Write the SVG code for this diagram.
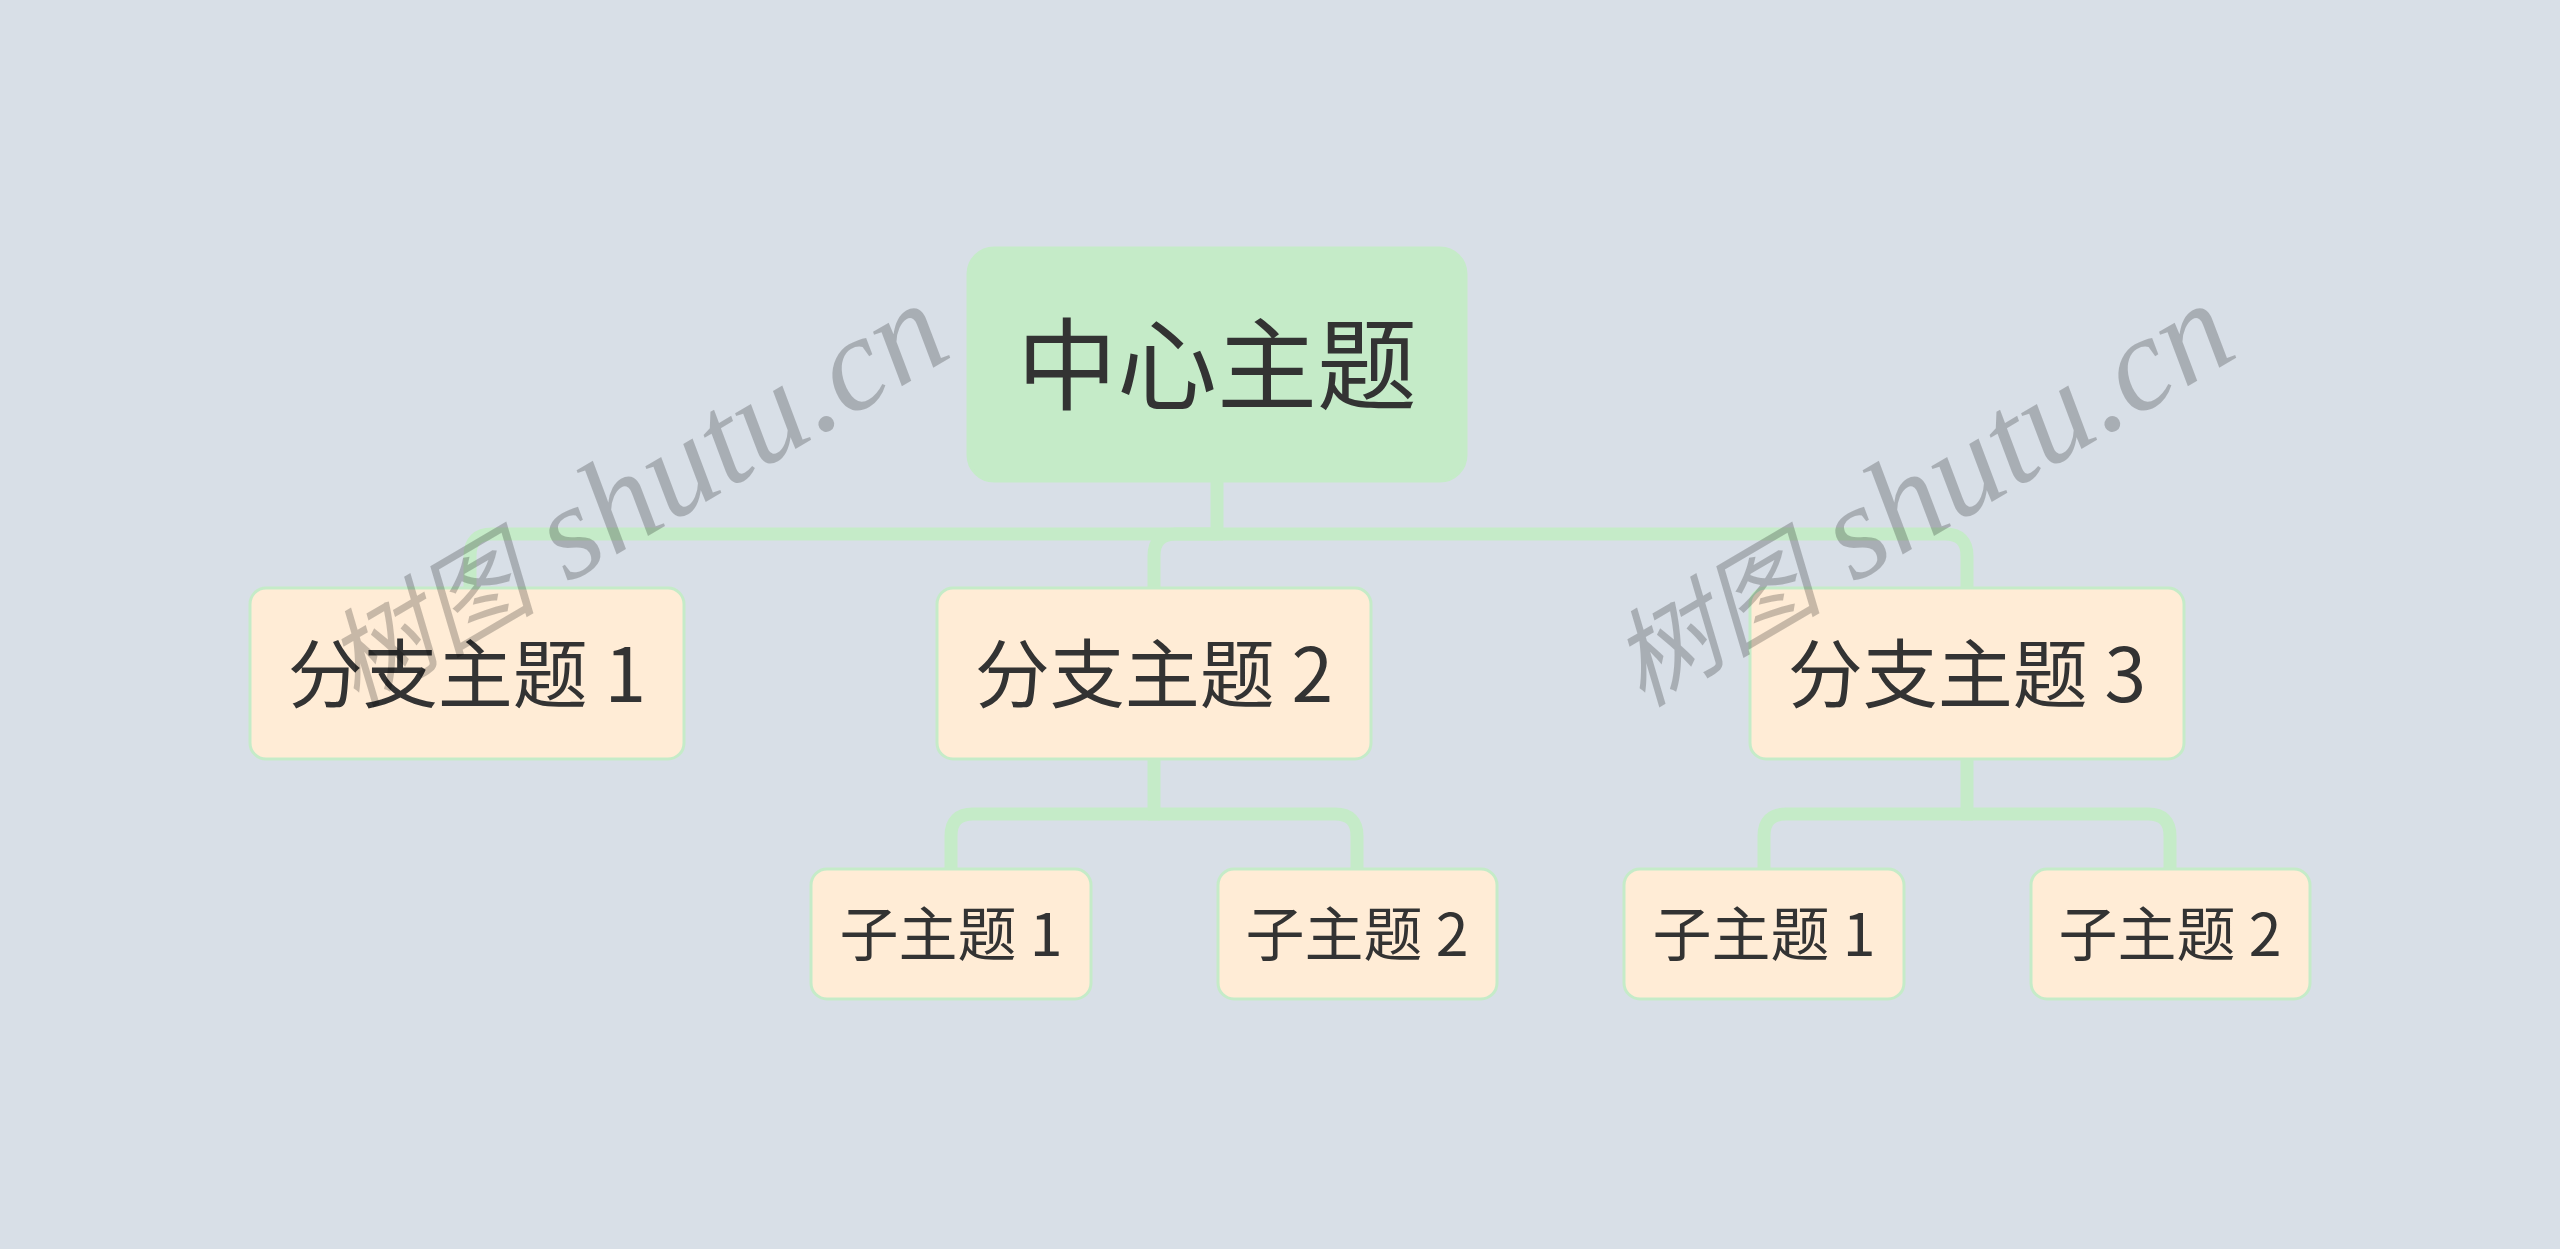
<svg xmlns="http://www.w3.org/2000/svg" width="2560" height="1249" viewBox="0 0 2560 1249">
<style>
.bg{fill:#d8dfe7}
.center{fill:#c5ebc8;stroke:#c5ebc8;stroke-width:3}
.branch{fill:#ffecd6;stroke:#c5ebc8;stroke-width:3}
.sub{fill:#ffecd6;stroke:#c5ebc8;stroke-width:3}
.t{font-family:"Noto Sans CJK SC","Noto Sans",sans-serif;fill:#333333;text-anchor:middle;dominant-baseline:central}
.conn{fill:none;stroke:#c5ebc8;stroke-width:13;stroke-linecap:butt}
.wm{font-style:italic;fill:#000000;fill-opacity:0.22}
.wmc{font-family:"Noto Sans CJK SC",sans-serif;font-size:106px}
.wml{font-family:"Liberation Serif","DejaVu Serif",serif;font-size:134px}
</style>
<rect class="bg" x="0" y="0" width="2560" height="1249"/>
<g id="connectors">
<path class="conn" d="M1217 480 V534"/>
<path class="conn" d="M1223 534 H492 Q470 534 470 556 V589"/>
<path class="conn" d="M1217 534 H1176 Q1154 534 1154 556 V589"/>
<path class="conn" d="M1211 534 H1945 Q1967 534 1967 556 V589"/>
<path class="conn" d="M1154 759 V814"/>
<path class="conn" d="M1160 814 H973 Q951 814 951 836 V870"/>
<path class="conn" d="M1148 814 H1335 Q1357 814 1357 836 V870"/>
<path class="conn" d="M1967 759 V814"/>
<path class="conn" d="M1973 814 H1786 Q1764 814 1764 836 V870"/>
<path class="conn" d="M1961 814 H2148 Q2170 814 2170 836 V870"/>
</g>
<g id="node-center">
<rect class="center" x="968" y="248" width="498" height="233" rx="26"/>
<text class="t" x="1217" y="358" font-size="100">中心主题</text>
</g>
<g id="node-branch1">
<rect class="branch" x="250" y="588" width="434" height="171" rx="16"/>
<text class="t" x="467" y="669" font-size="75">分支主题 1</text>
</g>
<g id="node-branch2">
<rect class="branch" x="937" y="588" width="434" height="171" rx="16"/>
<text class="t" x="1154" y="669" font-size="75">分支主题 2</text>
</g>
<g id="node-branch3">
<rect class="branch" x="1750" y="588" width="434" height="171" rx="16"/>
<text class="t" x="1967" y="669" font-size="75">分支主题 3</text>
</g>
<g id="node-sub2-1">
<rect class="sub" x="811" y="869" width="280" height="130" rx="16"/>
<text class="t" x="951" y="930" font-size="59">子主题 1</text>
</g>
<g id="node-sub2-2">
<rect class="sub" x="1218" y="869" width="279" height="130" rx="16"/>
<text class="t" x="1357" y="930" font-size="59">子主题 2</text>
</g>
<g id="node-sub3-1">
<rect class="sub" x="1624" y="869" width="280" height="130" rx="16"/>
<text class="t" x="1764" y="930" font-size="59">子主题 1</text>
</g>
<g id="node-sub3-2">
<rect class="sub" x="2031" y="869" width="279" height="130" rx="16"/>
<text class="t" x="2170" y="930" font-size="59">子主题 2</text>
</g>
<g id="watermarks">
<text class="wm" transform="translate(356 708) rotate(-30.5)"><tspan class="wmc">树图</tspan><tspan class="wml"> shutu.cn</tspan></text>
<text class="wm" transform="translate(1642 708) rotate(-30.5)"><tspan class="wmc">树图</tspan><tspan class="wml"> shutu.cn</tspan></text>
</g>
</svg>
